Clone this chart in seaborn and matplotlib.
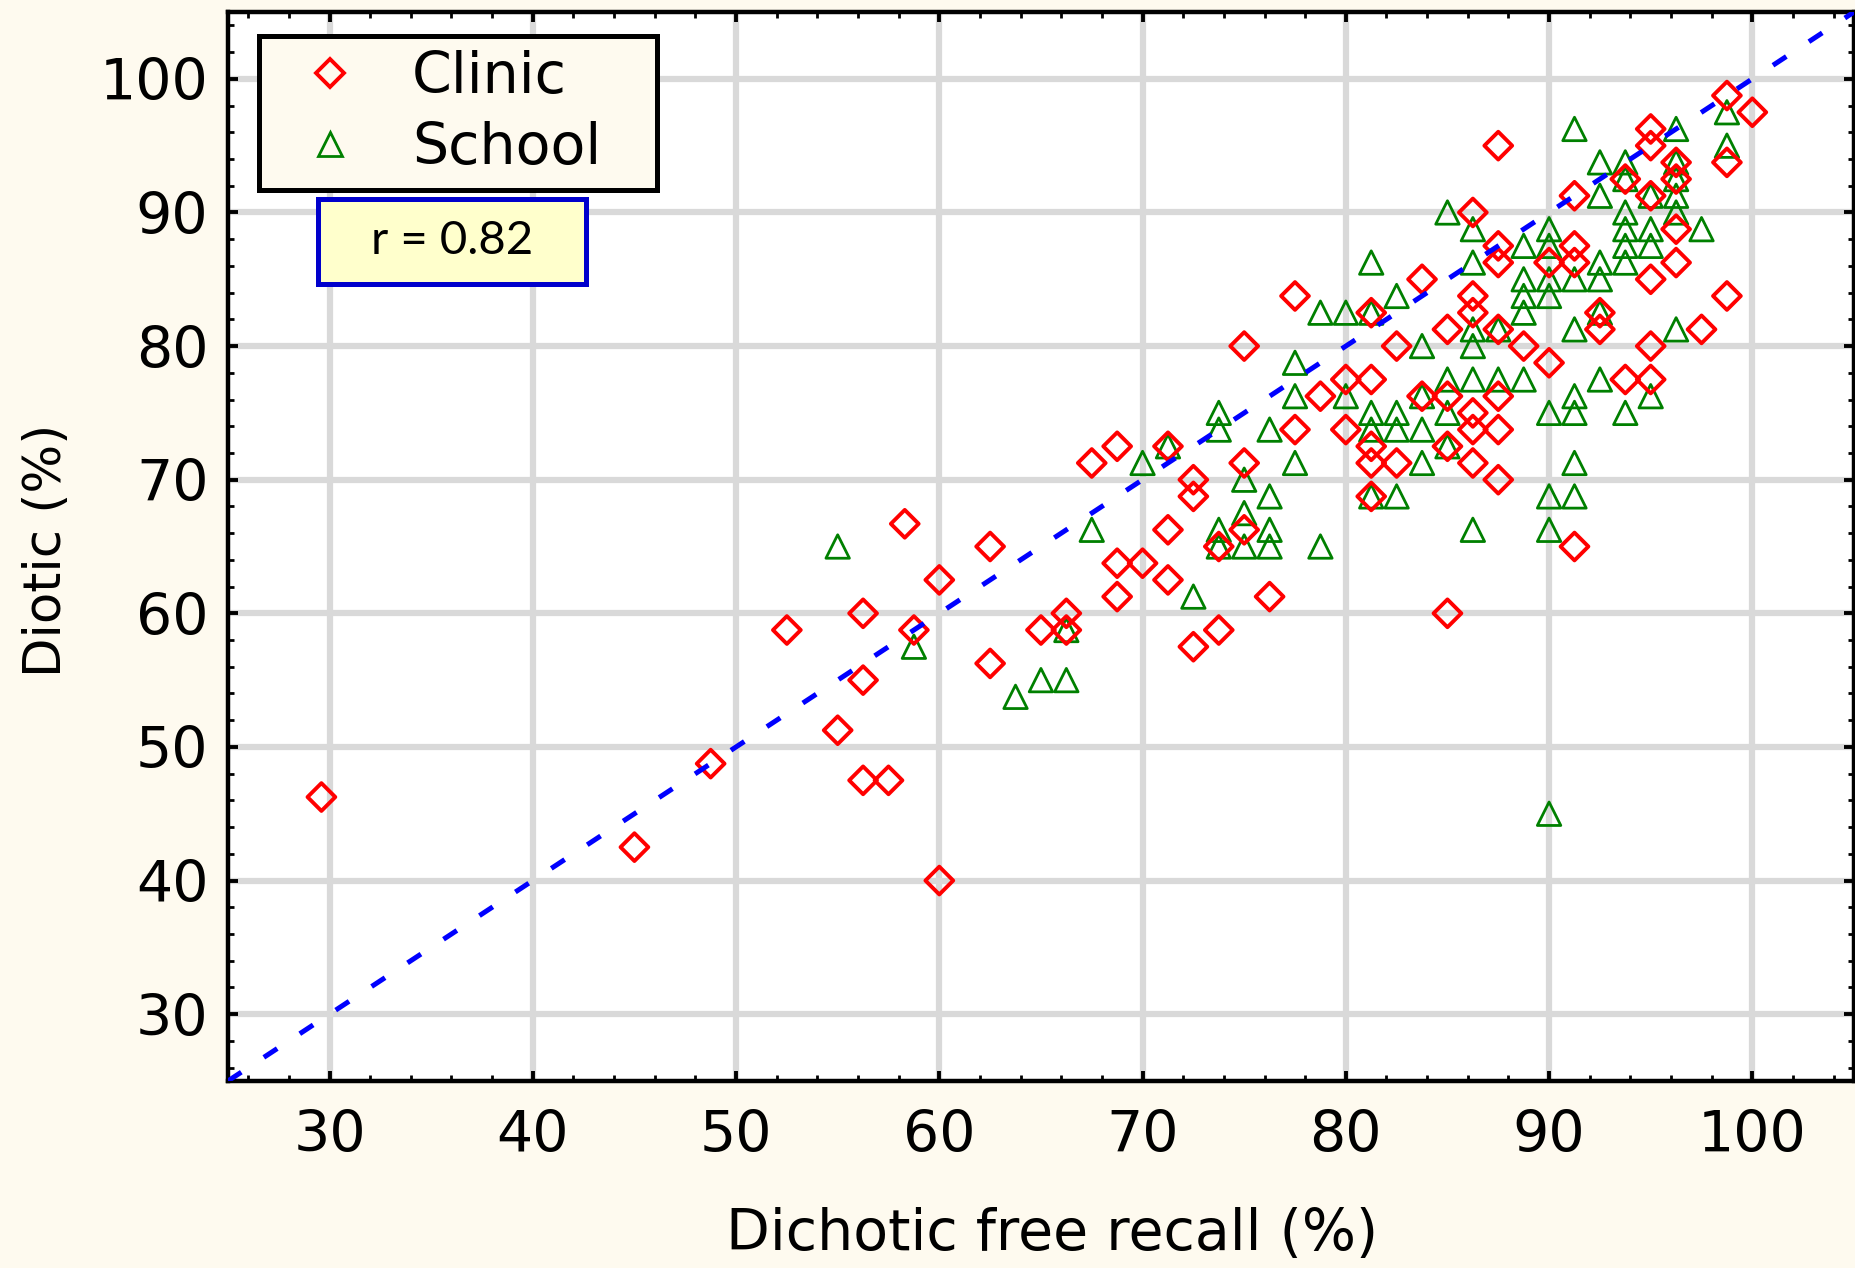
import matplotlib
matplotlib.use("Agg")
import matplotlib.pyplot as plt
from matplotlib.lines import Line2D
from matplotlib.patches import Rectangle
from matplotlib.ticker import MultipleLocator
import pandas as pd
import seaborn as sns

# Dichotic free recall (%) vs diotic (%) scores per participant
clinic_recall = [29.6, 45.0, 48.75, 52.5, 55.0, 56.25, 56.25, 56.25, 57.5, 58.3,
                 58.75, 60.0, 60.0, 62.5, 62.5, 65.0, 66.25, 66.25, 67.5, 68.75,
                 68.75, 68.75, 70.0, 71.25, 71.25, 71.25, 72.5, 72.5, 72.5, 73.75,
                 73.75, 75.0, 75.0, 75.0, 76.25, 77.5, 77.5, 78.75, 80.0, 80.0,
                 81.25, 81.25, 81.25, 81.25, 81.25, 82.5, 82.5, 83.75, 83.75, 85.0,
                 85.0, 85.0, 85.0, 86.25, 86.25, 86.25, 86.25, 86.25, 86.25, 87.5,
                 87.5, 87.5, 87.5, 87.5, 87.5, 87.5, 88.75, 90.0, 90.0, 91.25,
                 91.25, 91.25, 91.25, 92.5, 92.5, 93.75, 93.75, 95.0, 95.0, 95.0,
                 95.0, 95.0, 95.0, 96.25, 96.25, 96.25, 96.25, 97.5, 98.75, 98.75,
                 98.75, 100.0]
clinic_diotic = [46.25, 42.5, 48.75, 58.75, 51.25, 60.0, 55.0, 47.5, 47.5, 66.7,
                 58.75, 62.5, 40.0, 65.0, 56.25, 58.75, 60.0, 58.75, 71.25, 72.5,
                 63.75, 61.25, 63.75, 72.5, 66.25, 62.5, 70.0, 68.75, 57.5, 65.0,
                 58.75, 80.0, 71.25, 66.25, 61.25, 83.75, 73.75, 76.25, 77.5, 73.75,
                 82.5, 77.5, 72.5, 71.25, 68.75, 80.0, 71.25, 85.0, 76.25, 81.25,
                 76.25, 72.5, 60.0, 90.0, 83.75, 82.5, 75.0, 73.75, 71.25, 95.0,
                 87.5, 86.25, 81.25, 76.25, 73.75, 70.0, 80.0, 86.25, 78.75, 91.25,
                 87.5, 86.25, 65.0, 82.5, 81.25, 92.5, 77.5, 96.25, 95.0, 91.25,
                 85.0, 80.0, 77.5, 93.75, 92.5, 88.75, 86.25, 81.25, 98.75, 93.75,
                 83.75, 97.5]

school_recall = [55.0, 58.75, 63.75, 65.0, 66.25, 66.25, 67.5, 70.0, 71.25, 72.5,
                 73.75, 73.75, 73.75, 73.75, 75.0, 75.0, 75.0, 76.25, 76.25, 76.25,
                 76.25, 77.5, 77.5, 77.5, 78.75, 78.75, 80.0, 80.0, 81.25, 81.25,
                 81.25, 81.25, 81.25, 82.5, 82.5, 82.5, 82.5, 83.75, 83.75, 83.75,
                 83.75, 85.0, 85.0, 85.0, 85.0, 86.25, 86.25, 86.25, 86.25, 86.25,
                 86.25, 87.5, 87.5, 88.75, 88.75, 88.75, 88.75, 88.75, 90.0, 90.0,
                 90.0, 90.0, 90.0, 90.0, 90.0, 90.0, 91.25, 91.25, 91.25, 91.25,
                 91.25, 91.25, 91.25, 92.5, 92.5, 92.5, 92.5, 92.5, 92.5, 93.75,
                 93.75, 93.75, 93.75, 93.75, 93.75, 93.75, 95.0, 95.0, 95.0, 95.0,
                 96.25, 96.25, 96.25, 96.25, 96.25, 96.25, 97.5, 98.75, 98.75]
school_diotic = [65.0, 57.5, 53.75, 55.0, 55.0, 58.75, 66.25, 71.25, 72.5, 61.25,
                 75.0, 73.75, 66.25, 65.0, 70.0, 67.5, 65.0, 73.75, 68.75, 66.25,
                 65.0, 78.75, 76.25, 71.25, 82.5, 65.0, 82.5, 76.25, 86.25, 82.5,
                 75.0, 73.75, 68.75, 83.75, 75.0, 73.75, 68.75, 80.0, 76.25, 73.75,
                 71.25, 90.0, 77.5, 75.0, 72.5, 88.75, 86.25, 81.25, 80.0, 77.5,
                 66.25, 81.25, 77.5, 87.5, 85.0, 83.75, 82.5, 77.5, 88.75, 87.5,
                 85.0, 83.75, 75.0, 68.75, 66.25, 45.0, 96.25, 85.0, 81.25, 76.25,
                 75.0, 71.25, 68.75, 93.75, 91.25, 86.25, 85.0, 82.5, 77.5, 93.75,
                 92.5, 90.0, 88.75, 87.5, 86.25, 75.0, 91.25, 88.75, 87.5, 76.25,
                 96.25, 93.75, 92.5, 91.25, 90.0, 81.25, 88.75, 97.5, 95.0]

groups = ["Clinic", "School"]
group_colors = {"Clinic": "#FF0000", "School": "#008000"}
group_markers = {"Clinic": "D", "School": "^"}
group_sizes = {"Clinic": 200, "School": 285}
group_widths = {"Clinic": 2.8, "School": 2.0}
r_label = "r = 0.82"

axis_ticks = [30, 40, 50, 60, 70, 80, 90, 100]
axis_limits = (25, 105)

df = pd.concat([
    pd.DataFrame({"recall": clinic_recall, "diotic": clinic_diotic, "group": "Clinic"}),
    pd.DataFrame({"recall": school_recall, "diotic": school_diotic, "group": "School"}),
], ignore_index=True)

plt.rcParams["font.family"] = ["DejaVu Sans"]
cream = "#FEFAEF"

fig = plt.figure(figsize=(18.56, 12.68), dpi=100, facecolor=cream)
ax = fig.add_axes([0.1228, 0.1475, 0.8761, 0.843])
ax.set_facecolor("white")

# hollow markers, school drawn first so clinic sits on top
for g in ["School", "Clinic"]:
    sub = df[df["group"] == g]
    sns.scatterplot(data=sub, x="recall", y="diotic", ax=ax,
                    marker=group_markers[g], s=group_sizes[g],
                    facecolors="none", edgecolor=group_colors[g],
                    linewidth=group_widths[g], zorder=3, legend=False)

# identity reference line
ax.axline((0, 0), slope=1, color="#0000FF", lw=3.6,
          linestyle=(0, (3.2, 5.4)), dash_capstyle="butt", zorder=4)

ax.set_xlim(*axis_limits)
ax.set_ylim(*axis_limits)
ax.set_xticks(axis_ticks)
ax.set_yticks(axis_ticks)
ax.xaxis.set_minor_locator(MultipleLocator(2))
ax.yaxis.set_minor_locator(MultipleLocator(2))
ax.grid(True, which="major", color="#D9D9D9", lw=4.5, zorder=0)
ax.set_axisbelow(True)

for sp in ax.spines.values():
    sp.set_linewidth(3.2)
    sp.set_color("black")

ax.tick_params(which="major", direction="in", length=7, width=2.8,
               top=True, right=True, labelsize=41, colors="black")
ax.tick_params(which="minor", direction="in", length=4.5, width=2,
               top=True, right=True)
ax.tick_params(axis="x", which="major", pad=20)
ax.tick_params(axis="y", which="major", pad=14)

ax.set_xlabel("Dichotic free recall (%)", fontsize=41, va="center")
ax.set_ylabel("Diotic (%)", fontsize=37, va="center", ha="center")
ax.xaxis.set_label_coords(0.507, -0.144)
ax.yaxis.set_label_coords(-0.111, 0.4967)

handles = [Line2D([], [], linestyle="none", marker=group_markers[g],
                  markersize=group_sizes[g] ** 0.5, markerfacecolor="none",
                  markeredgecolor=group_colors[g],
                  markeredgewidth=group_widths[g]) for g in groups]
leg = ax.legend(handles, groups, loc="upper left",
                bbox_to_anchor=(0.019, 0.8385, 0.245, 0.139), mode="expand",
                borderaxespad=0, fontsize=41, frameon=True, fancybox=False,
                framealpha=1, facecolor=cream, edgecolor="black",
                borderpad=0.24, handlelength=2.02, handletextpad=0.43,
                labelspacing=0.29)
leg.get_frame().set_linewidth(3.6)
leg.set_zorder(6)

# correlation annotation box
ax.add_patch(Rectangle((0.0554, 0.7456), 0.1648, 0.0795, transform=ax.transAxes,
                       facecolor="#FFFFCC", edgecolor="#0000CC", lw=3.6,
                       zorder=6))
ax.text(0.0554 + 0.1648 / 2, 0.7456 + 0.0795 / 2, r_label,
        transform=ax.transAxes, ha="center", va="center",
        fontsize=34, family=["Lato", "DejaVu Sans"], zorder=7)

fig.savefig("out.png", dpi=100, facecolor=cream)
